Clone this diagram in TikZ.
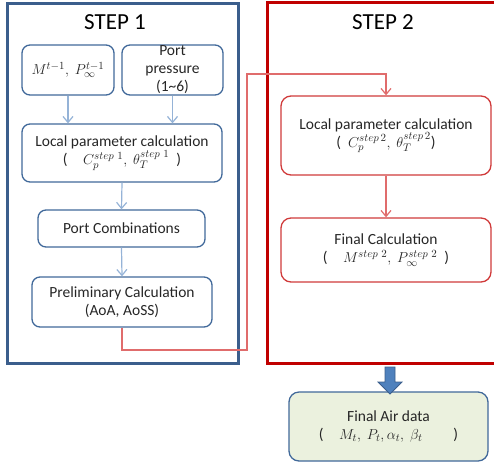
\documentclass[tikz,border=0pt]{standalone}
\usepackage{fontspec}
\setmainfont{Carlito}
\usetikzlibrary{arrows.meta}
\definecolor{frameblue}{HTML}{3B5E8C}
\definecolor{boxblue}{HTML}{41699A}
\definecolor{linkblue}{HTML}{95B3D7}
\definecolor{framered}{HTML}{C00000}
\definecolor{boxred}{HTML}{D03A3A}
\definecolor{linkred}{HTML}{E06C6C}
\definecolor{airfill}{HTML}{EBF1DE}
\definecolor{arrowblue}{HTML}{4F81BD}
\definecolor{txt}{HTML}{262626}
\tikzset{
  bbox/.style={draw=boxblue, line width=1.3pt, rounded corners=8pt, align=center, inner sep=0pt, text=txt, font=\fontsize{15.5}{18}\selectfont},
  rbox/.style={draw=boxred, line width=1.3pt, rounded corners=10pt, align=center, inner sep=0pt, text=txt, font=\fontsize{15.5}{18}\selectfont},
  blink/.style={draw=linkblue, line width=1.2pt, -{Straight Barb[length=6pt,width=10pt]}},
  rlink/.style={draw=linkred, line width=1.2pt},
  title/.style={font=\fontsize{23}{26}\selectfont, text=black, inner sep=0pt}
}
\begin{document}
\begin{tikzpicture}[x=1pt,y=-1pt]
\useasboundingbox (0,0) rectangle (494,464);
% frames
\draw[frameblue, line width=3pt] (7,3) rectangle (238,363);
\draw[framered, line width=3pt] (267,2) rectangle (497,363);
\node[title] (t1) at (115,22) {STEP 1};
\node[title] (t2) at (383,22) {STEP 2};
% step 1 boxes
\node[bbox, minimum width=92pt, minimum height=50pt] (m) at (68,70) {$M^{t-1},\ P_\infty^{t-1}$};
\node[bbox, minimum width=101pt, minimum height=50pt] (pp) at (172.5,70) {Port\\pressure\\(1\textasciitilde 6)};
\node[bbox, minimum width=200pt, minimum height=58pt] (l1) at (122,153) {Local parameter calculation\\(\quad $C_p^{step\ 1},\ \theta_T^{step\ 1}$\ \ )};
\node[bbox, minimum width=167pt, minimum height=37pt] (pc) at (121.5,228.5) {Port Combinations};
\node[bbox, minimum width=180pt, minimum height=50pt] (pr) at (122,302) {Preliminary Calculation\\(AoA, AoSS)};
\draw[blink] (m.south) -- (m.south |- l1.north);
\draw[blink] (pp.south) -- (pp.south |- l1.north);
\draw[blink] (l1.south) -- (pc.north);
\draw[blink] (pc.south) -- (pr.north);
% step 2 boxes
\node[rbox, minimum width=210pt, minimum height=79pt] (l2) at (386,135.5) {Local parameter calculation\\(\ \ $C_p^{step\,2},\ \theta_T^{step\,2}$)};
\node[rbox, minimum width=210pt, minimum height=64pt] (fc) at (386,250) {Final Calculation\\(\quad $M^{step\ 2},\ P_\infty^{step\ 2}$\ \ )};
\draw[rlink, -{Straight Barb[length=6pt,width=10pt]}] (l2.south) -- (fc.north);
% red connector from step 1 to step 2
\coordinate (r1) at (247,350);
\coordinate (r2) at (247,74);
\draw[rlink, -{Straight Barb[length=6pt,width=10pt]}] (pr.south) |- (r1) -- (r2) -| (l2.north);
% final air data
\node[draw=boxblue, fill=airfill, line width=1.3pt, rounded corners=10pt, align=center, inner sep=0pt, text=txt, font=\fontsize{15.5}{18}\selectfont, minimum width=199pt, minimum height=69pt] (air) at (388.5,426.5) {Final Air data\\(\quad $M_t,\ P_t, \alpha_t,\ \beta_t$\qquad)};
\draw[draw=frameblue, fill=arrowblue, line width=0.8pt] (385,367) -- (395,367) -- (395,382) -- (402,382) -- (390,394) -- (378,382) -- (385,382) -- cycle;
\end{tikzpicture}
\end{document}
